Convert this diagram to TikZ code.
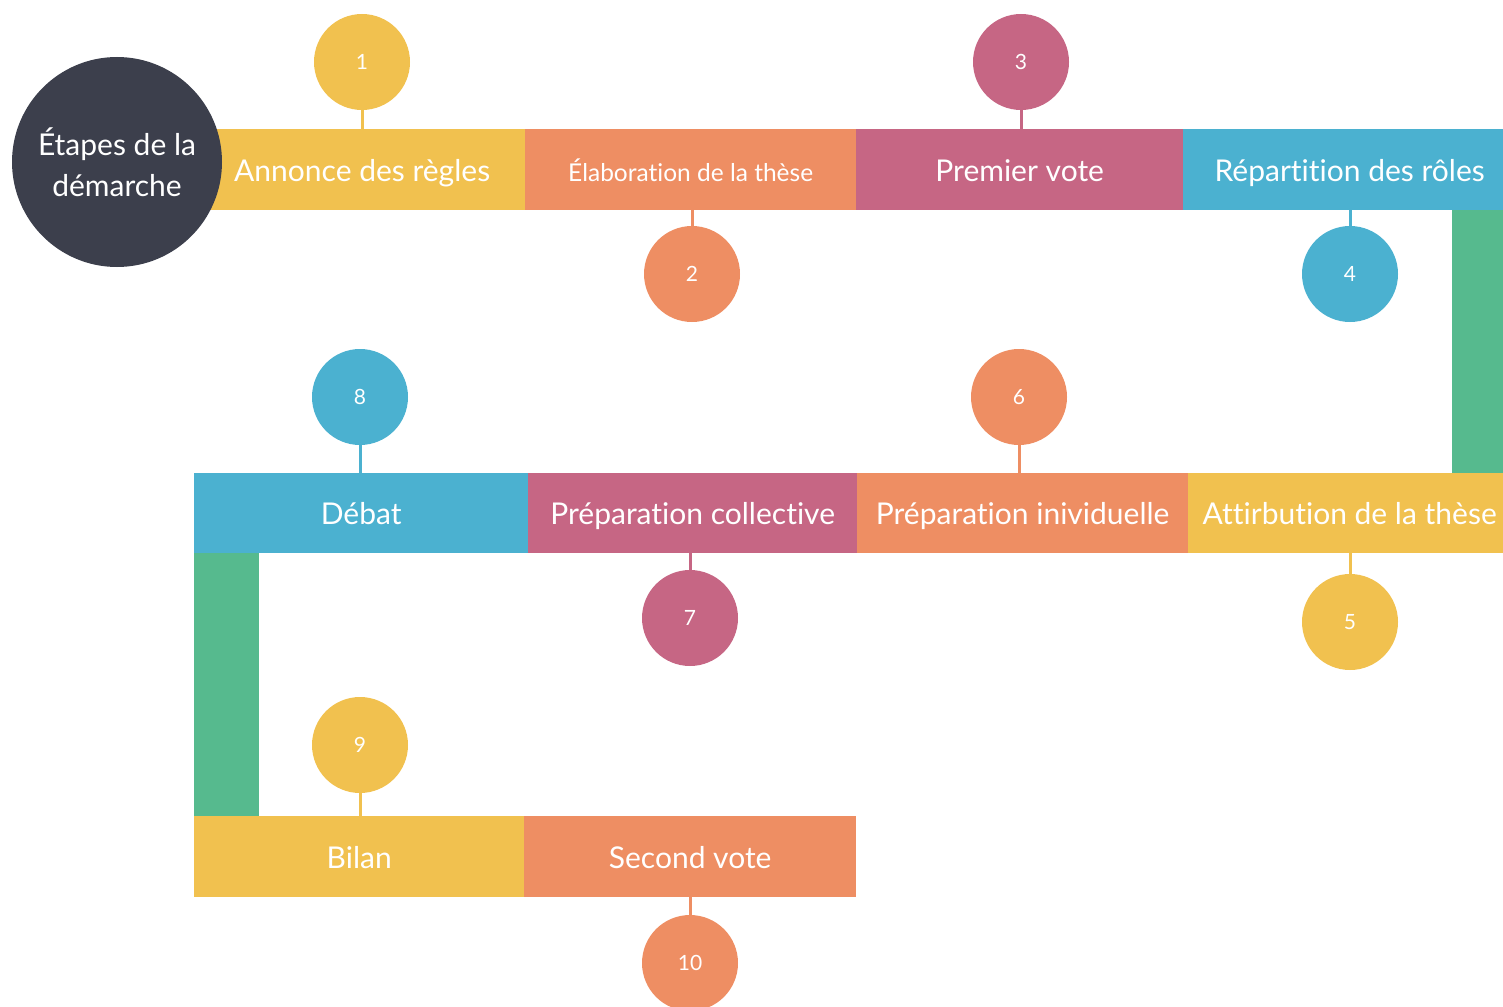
\documentclass[tikz,border=0pt]{standalone}
\usepackage{fontspec}
\setmainfont{Lato}[Ligatures=NoCommon]
\definecolor{cyel}{HTML}{F1C14F}
\definecolor{cora}{HTML}{EE8E63}
\definecolor{cmag}{HTML}{C66684}
\definecolor{cblu}{HTML}{4BB1D0}
\definecolor{cgrn}{HTML}{56BA8E}
\definecolor{cdrk}{HTML}{3C3F4C}
\tikzset{
  bar/.style={fill=#1, draw=none, rectangle, anchor=north west, inner sep=0pt, text=white,
    font=\fontsize{30}{36}\selectfont, text height=23pt, text depth=0pt},
  num/.style={fill=#1, draw=none, circle, minimum size=96pt, inner sep=0pt, text=white,
    font=\fontsize{21}{25}\selectfont},
  stem/.style={draw=#1, line width=3pt},
  link/.style={fill=cgrn, draw=none, rectangle, anchor=north west, inner sep=0pt},
}
\begin{document}
\begin{tikzpicture}[x=1pt,y=-1pt]
\useasboundingbox (0,0) rectangle (1503,1006);
% row 1
\node[bar=cyel, minimum width=326pt, minimum height=81pt] (b1) at (199,129) {Annonce des règles};
\node[bar=cora, minimum width=331pt, minimum height=81pt, font=\fontsize{24.5}{29}\selectfont] (b2) at (525,129) {Élaboration de la thèse};
\node[bar=cmag, minimum width=327pt, minimum height=81pt] (b3) at (856,129) {Premier vote};
\node[bar=cblu, minimum width=333pt, minimum height=81pt] (b4) at (1183,129) {Répartition des rôles};
\node[link, minimum width=51pt, minimum height=263pt] (g1) at (1452,210) {};
% row 2
\node[bar=cyel, minimum width=323pt, minimum height=80pt] (b5) at (1188,473) {Attirbution de la thèse};
\node[bar=cora, minimum width=331pt, minimum height=80pt] (b6) at (857,473) {Préparation inividuelle};
\node[bar=cmag, minimum width=329pt, minimum height=80pt] (b7) at (528,473) {Préparation collective};
\node[bar=cblu, minimum width=334pt, minimum height=80pt] (b8) at (194,473) {Débat};
\node[link, minimum width=65pt, minimum height=263pt] (g2) at (194,553) {};
% row 3
\node[bar=cyel, minimum width=330pt, minimum height=81pt] (b9) at (194,816) {Bilan};
\node[bar=cora, minimum width=332pt, minimum height=81pt] (b10) at (524,816) {Second vote};
% title circle
\node[circle, fill=cdrk, minimum size=210pt, inner sep=0pt, text=white, align=center,
  font=\fontsize{30}{41}\selectfont] (t) at (117,162) {Étapes de la\\démarche};
% numbered circles
\node[num=cyel] (c1) at (362,62) {1};
\node[num=cora] (c2) at (692,274) {2};
\node[num=cmag] (c3) at (1021,62) {3};
\node[num=cblu] (c4) at (1350,274) {4};
\node[num=cyel] (c5) at (1350,622) {5};
\node[num=cora] (c6) at (1019,397) {6};
\node[num=cmag] (c7) at (690,618) {7};
\node[num=cblu] (c8) at (360,397) {8};
\node[num=cyel] (c9) at (360,745) {9};
\node[num=cora] (c10) at (690,963) {10};
% stems
\draw[stem=cyel] (c1.south) -- (c1.south |- b1.north);
\draw[stem=cora] (c2.north) -- (c2.north |- b2.south);
\draw[stem=cmag] (c3.south) -- (c3.south |- b3.north);
\draw[stem=cblu] (c4.north) -- (c4.north |- b4.south);
\draw[stem=cyel] (c5.north) -- (c5.north |- b5.south);
\draw[stem=cora] (c6.south) -- (c6.south |- b6.north);
\draw[stem=cmag] (c7.north) -- (c7.north |- b7.south);
\draw[stem=cblu] (c8.south) -- (c8.south |- b8.north);
\draw[stem=cyel] (c9.south) -- (c9.south |- b9.north);
\draw[stem=cora] (c10.north) -- (c10.north |- b10.south);
\end{tikzpicture}
\end{document}
